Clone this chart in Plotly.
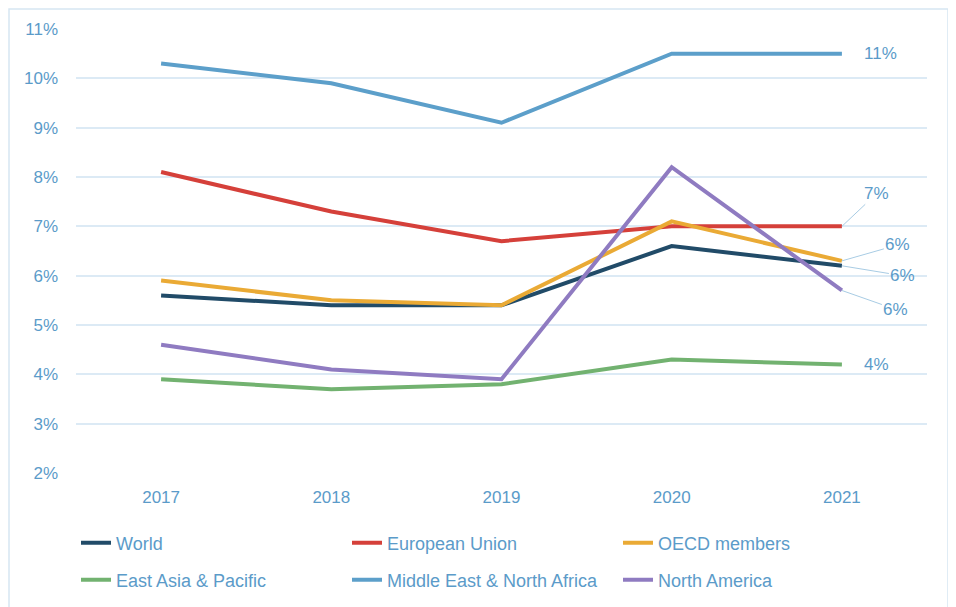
import plotly.graph_objects as go

years = ["2017", "2018", "2019", "2020", "2021"]
world = [5.6, 5.4, 5.4, 6.6, 6.2]
eu = [8.1, 7.3, 6.7, 7.0, 7.0]
oecd = [5.9, 5.5, 5.4, 7.1, 6.3]
eap = [3.9, 3.7, 3.8, 4.3, 4.2]
mena = [10.3, 9.9, 9.1, 10.5, 10.5]
na = [4.6, 4.1, 3.9, 8.2, 5.7]
yticks = [2, 3, 4, 5, 6, 7, 8, 9, 10, 11]
ytick_text = [f"{v}%" for v in yticks]

FONT = "Liberation Sans"
BLUE_TXT = "#5B9BC9"

series = [
    ("World", world, "#214B68", "legend"),
    ("European Union", eu, "#D5403A", "legend"),
    ("OECD members", oecd, "#EAAA35", "legend"),
    ("East Asia & Pacific", eap, "#72B270", "legend2"),
    ("Middle East & North Africa", mena, "#5C9FCA", "legend2"),
    ("North America", na, "#8F7BC1", "legend2"),
]

fig = go.Figure()
for name, vals, col, lg in series:
    fig.add_trace(go.Scatter(x=years, y=vals, name=name, mode="lines",
                             line=dict(color=col, width=4), legend=lg))

annotations = []
for vals, txt in [(mena, "11%"), (eap, "4%")]:
    annotations.append(dict(x=len(years) - 1, y=vals[-1], xref="x", yref="y", text=txt,
                            showarrow=False, xanchor="left", xshift=20,
                            font=dict(family=FONT, size=17, color=BLUE_TXT)))

for vals, ax, ay in [(eu, 35, -33), (oecd, 56, -16), (world, 61, 10), (na, 54, 19)]:
    annotations.append(dict(x=len(years) - 1, y=vals[-1], xref="x", yref="y",
                            text=f"{round(vals[-1])}%", showarrow=True,
                            arrowhead=0, arrowwidth=1, arrowcolor="#A8CCE4",
                            ax=ax, ay=ay, standoff=0,
                            font=dict(family=FONT, size=17, color=BLUE_TXT)))

fig.update_layout(
    width=956, height=607,
    margin=dict(l=68, r=37, t=21, b=142, autoexpand=False),
    paper_bgcolor="white", plot_bgcolor="white",
    font=dict(family=FONT, size=17, color=BLUE_TXT),
    annotations=annotations,
    legend=dict(orientation="h", x=0.0, y=-0.158, xanchor="left", yanchor="middle",
                entrywidth=226, entrywidthmode="pixels",
                font=dict(family=FONT, size=18, color=BLUE_TXT), bgcolor="rgba(0,0,0,0)"),
    legend2=dict(orientation="h", x=0.0, y=-0.241, xanchor="left", yanchor="middle",
                 entrywidth=226, entrywidthmode="pixels",
                 font=dict(family=FONT, size=18, color=BLUE_TXT), bgcolor="rgba(0,0,0,0)"),
    shapes=[dict(type="rect", xref="paper", yref="paper",
                 x0=-67 / 851, x1=1 + 21 / 851, y0=-150 / 444, y1=1 + 20 / 444,
                 line=dict(color="#D6E6F2", width=1.5), fillcolor="rgba(0,0,0,0)", layer="below")],
)
fig.update_xaxes(type="category", range=[-0.5, 4.5], showgrid=False, showline=False,
                 ticks="", tickfont=dict(family=FONT, size=17, color=BLUE_TXT),
                 ticklabelstandoff=12)
fig.update_yaxes(range=[2, 11], tickvals=yticks, ticktext=ytick_text,
                 showgrid=True, gridcolor="#DCEAF5", gridwidth=1.5, zeroline=False,
                 showline=False, ticks="", tickfont=dict(family=FONT, size=17, color=BLUE_TXT),
                 ticklabelstandoff=17)

fig.write_html("out.html")
